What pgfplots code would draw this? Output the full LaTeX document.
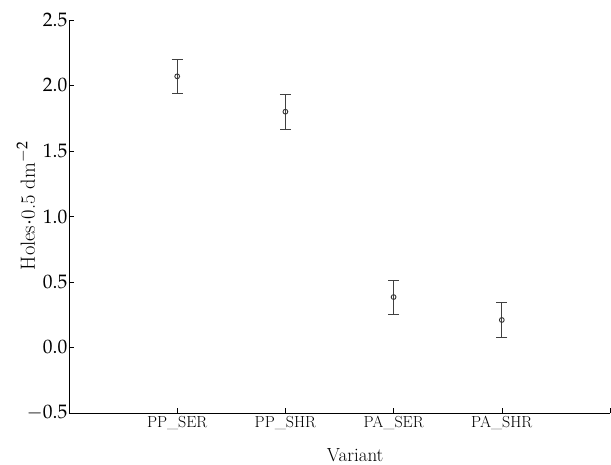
\documentclass[border=0pt]{standalone}
\usepackage{mathpazo}
\usepackage{pgfplots}
\pgfplotsset{compat=1.18}
\begin{document}
\begin{tikzpicture}
\useasboundingbox (-69pt,-52pt) rectangle (542pt,413pt);
\begin{axis}[
  at={(0,0)}, anchor=south west,
  scale only axis, width=541pt, height=393pt,
  xmin=0, xmax=5, ymin=-0.5, ymax=2.5,
  axis lines=left,
  axis line style={-, line width=0.8pt, black},
  xtick={1,2,3,4,5},
  xticklabels={PP\_SER,PP\_SHR,PA\_SER,PA\_SHR,{}},
  ytick={-0.5,0,0.5,1,1.5,2,2.5},
  y tick label style={inner sep=1.5pt, font=\fontsize{19.5}{22}\selectfont},
  x tick label style={font=\fontsize{16}{19}\selectfont},
  /pgf/number format/fixed,
  /pgf/number format/fixed zerofill,
  /pgf/number format/precision=1,
  tick align=inside,
  major tick length=5pt,
  tick style={black, line width=0.5pt},
  xlabel={Variant},
  ylabel={Holes$\cdot$0.5 dm$^{-2}$},
  every axis x label/.style={at={(axis description cs:0.529,0)}, yshift=-42pt, anchor=center, font=\fontsize{19}{22}\selectfont},
  every axis y label/.style={at={(axis description cs:0,0.527)}, xshift=-43pt, rotate=90, anchor=center, font=\fontsize{20.5}{23}\selectfont},
  clip=false,
]
\addplot+[only marks, mark=o, black!80, mark size=2.4pt,
  mark options={line width=0.9pt, black!80},
  error bars/.cd, y dir=both, y explicit,
  error bar style={black!75, line width=0.8pt},
  error mark options={rotate=90, mark size=5.5pt, black!75, line width=0.8pt}]
  table[x=x, y=y, y error=e] {
  x   y      e
  1   2.07   0.13
  2   1.80   0.135
  3   0.385  0.13
  4   0.21   0.135
  };
\end{axis}
\end{tikzpicture}
\end{document}
